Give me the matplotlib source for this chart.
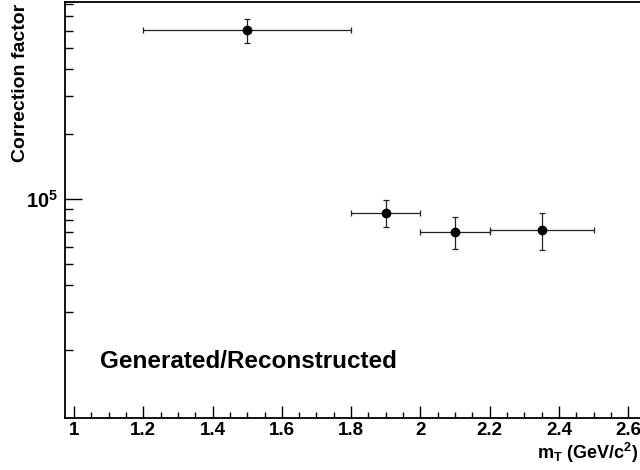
import matplotlib.pyplot as plt
from matplotlib.ticker import FixedLocator, MultipleLocator, FuncFormatter, LogLocator, NullFormatter

plt.rcParams['font.family'] = ['Liberation Sans', 'DejaVu Sans']
plt.rcParams['font.weight'] = 'bold'
plt.rcParams['mathtext.fontset'] = 'custom'
plt.rcParams['mathtext.rm'] = 'Liberation Sans:bold'
plt.rcParams['mathtext.bf'] = 'Liberation Sans:bold'
plt.rcParams['mathtext.it'] = 'Liberation Sans:bold'

# bin centres, bin edges and correction factors with their errors
mt = [1.5, 1.9, 2.1, 2.35]
mt_lo = [1.2, 1.8, 2.0, 2.2]
mt_hi = [1.8, 2.0, 2.2, 2.5]
corr = [6.06e5, 8.61e4, 7.06e4, 7.18e4]
corr_up = [6.81e5, 9.90e4, 8.28e4, 8.59e4]
corr_dn = [5.27e5, 7.42e4, 5.87e4, 5.81e4]

xerr = [[m - lo for m, lo in zip(mt, mt_lo)], [hi - m for m, hi in zip(mt, mt_hi)]]
yerr = [[c - d for c, d in zip(corr, corr_dn)], [u - c for c, u in zip(corr, corr_up)]]

fig = plt.figure(figsize=(6.4, 4.7), dpi=100)
ax = fig.add_axes([65 / 640, 52 / 470, 575 / 640, 416 / 470])

ax.errorbar(mt, corr, xerr=xerr, yerr=yerr, fmt='o', color='black', ms=6,
            elinewidth=0.9, ecolor='#222222', capsize=2.5, capthick=0.9)

ax.set_yscale('log')
ax.set_xlim(0.974, 2.634)
ax.set_ylim(9.68e3, 8.17e5)

ax.xaxis.set_major_locator(MultipleLocator(0.2))
ax.xaxis.set_minor_locator(MultipleLocator(0.05))
ax.xaxis.set_major_formatter(FuncFormatter(lambda v, p: ('%g' % round(v, 2))))
ax.yaxis.set_major_locator(FixedLocator([1e5]))
ax.yaxis.set_minor_locator(LogLocator(base=10, subs=range(2, 10)))
ax.yaxis.set_major_formatter(FuncFormatter(lambda v, p: r'$10^{5}$'))
ax.yaxis.set_minor_formatter(NullFormatter())

ax.tick_params(axis='x', which='major', direction='in', length=8.6, width=1, labelsize=13.5, pad=3)
ax.tick_params(axis='x', which='minor', direction='in', length=4.3, width=1)
ax.tick_params(axis='y', which='major', direction='in', length=12, width=1, labelsize=14.5, pad=5)
ax.tick_params(axis='y', which='minor', direction='in', length=5.8, width=1)

ax.spines['right'].set_visible(False)
for s in ['left', 'bottom', 'top']:
    ax.spines[s].set_linewidth(1.3)

fig.text(21 / 640, 1 - 4 / 470, 'Correction factor', rotation=90, ha='center', va='top',
         fontsize=14, fontweight='bold')
fig.text(638 / 640, 1 - 459 / 470, r'm$_{\mathrm{T}}$ (GeV/c$^{2}$)', ha='right', va='baseline',
         fontsize=13, fontweight='bold')
fig.text(100 / 640, 1 - 368 / 470, 'Generated/Reconstructed',
         ha='left', va='baseline', fontsize=17.5, fontweight='bold')

fig.savefig('out.png', dpi=100)
